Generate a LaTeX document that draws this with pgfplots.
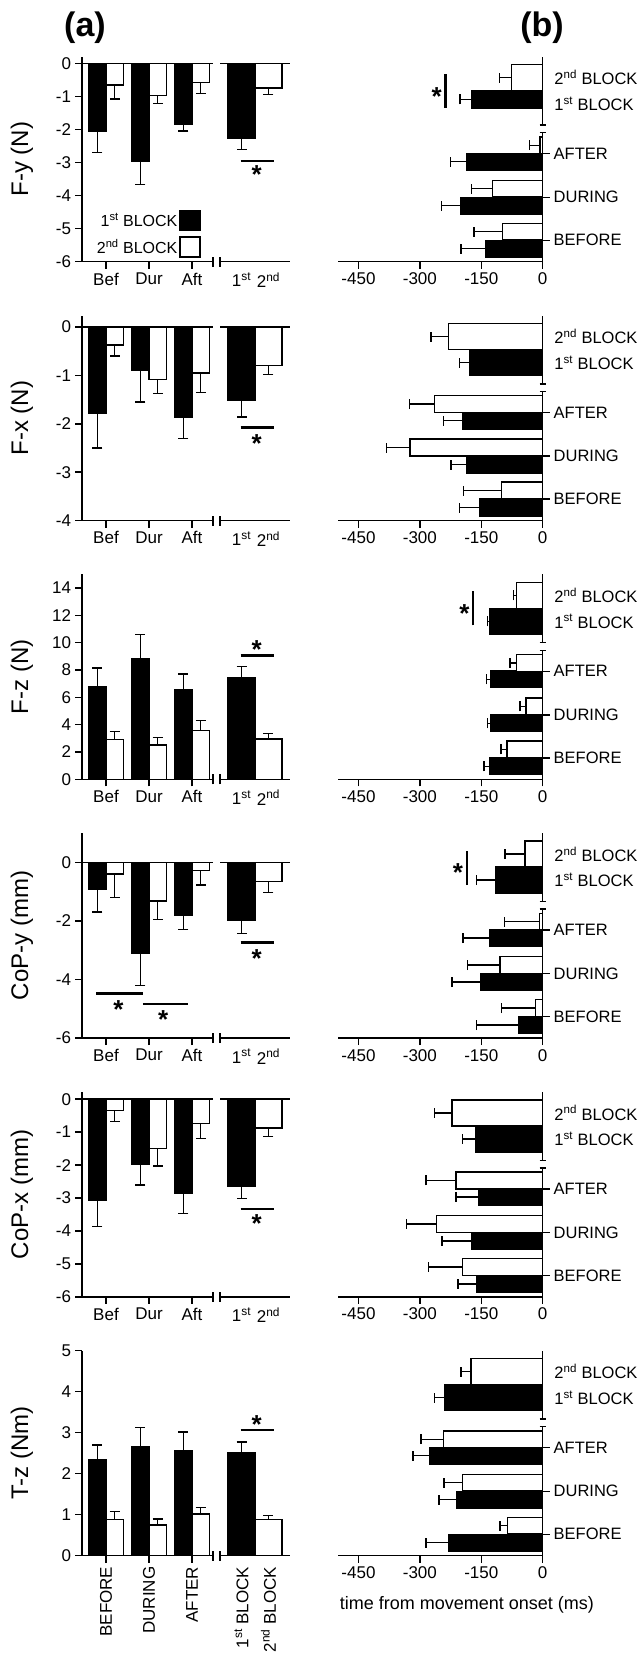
\documentclass[border=0pt]{standalone}
\usepackage{pgfplots}
\pgfplotsset{compat=1.18}
\usepackage{fontspec}
\setmainfont{Liberation Sans}
\newcommand{\fs}[1]{\fontsize{#1}{#1}\selectfont}
\pgfplotsset{
  every axis/.append style={scale only axis, clip=false, line width=1.4pt,
    tick style={line width=1.4pt, black}, tick align=outside, major tick length=7pt,
    tick label style={font=\fs{17}}, label style={font=\fs{24}},
    error bars/error mark=|,
    error bars/error bar style={line width=1.4pt, black},
    error bars/error mark options={line width=1.4pt, black, mark size=5pt}},
  g1/.style={width=131pt, height=205pt, xmin=-0.558, xmax=2.488,
    axis x line*=bottom, axis y line*=left, xtick={0,1,2}, xticklabels={Bef,Dur,Aft},
    ylabel style={at={(axis description cs:-0.458,0.5)}, anchor=center}},
  g2/.style={width=70pt, height=205pt, xmin=-1.3, xmax=1.3,
    axis x line*=bottom, axis y line=none, ytick=\empty, xtick={-0.5,0.5},
    xticklabels={1\textsuperscript{st},2\textsuperscript{nd}}, xtick style={draw=none}},
  pb/.style={width=204.7pt, height=205pt, xmin=-500, xmax=0, ymin=0, ymax=205,
    axis x line*=bottom, axis y line*=right, y axis line style={draw=none},
    xtick={-450,-300,-150,0}, xticklabels={-450,-300,-150,0},
    ytick={21.5,64.5,108}, yticklabels={BEFORE,DURING,AFTER},
    yticklabel style={font=\fs{16.5}}},
  bk/.style={ybar, bar shift=0pt, bar width=0.4, fill=black, draw=black, line width=1.4pt},
  wh/.style={ybar, bar shift=0pt, bar width=0.4, fill=white, draw=black, line width=1.4pt},
  bk2/.style={ybar, bar shift=0pt, bar width=1, fill=black, draw=black, line width=1.4pt},
  wh2/.style={ybar, bar shift=0pt, bar width=1, fill=white, draw=black, line width=1.4pt},
  hbk/.style={xbar, bar shift=0pt, bar width=16.8, fill=black, draw=black, line width=1.4pt},
  hwh/.style={xbar, bar shift=0pt, bar width=16.8, fill=white, draw=black, line width=1.4pt},
  hbkB/.style={xbar, bar shift=0pt, bar width=26, fill=black, draw=black, line width=1.4pt},
  hwhB/.style={xbar, bar shift=0pt, bar width=26, fill=white, draw=black, line width=1.4pt},
}
\tikzset{st/.style={font=\bfseries\fs{26}, inner sep=0pt},
  bl/.style={anchor=west, font=\fs{16.5}, inner sep=0pt},
  sg/.style={line width=2.5pt}}
\newcommand{\bbreak}{%
  \draw[line width=1.4pt] (axis cs:0,0) -- (axis cs:0,129);
  \draw[line width=1.4pt] ([xshift=-3pt]axis cs:0,129) -- ([xshift=3pt]axis cs:0,129);
  \draw[line width=1.4pt] (axis cs:0,136.7) -- (axis cs:0,205);
  \draw[line width=1.4pt] ([xshift=-3pt]axis cs:0,136.7) -- ([xshift=3pt]axis cs:0,136.7);
  \node[bl] at ([xshift=11pt]axis cs:0,184) {2\textsuperscript{nd} BLOCK};
  \node[bl] at ([xshift=11pt]axis cs:0,158) {1\textsuperscript{st} BLOCK};}
\newcommand{\capR}[1]{\draw[line width=1.4pt] ([yshift=-5pt]axis cs:2.488,#1) -- ([yshift=5pt]axis cs:2.488,#1);}
\newcommand{\capL}[1]{\draw[line width=1.4pt] ([yshift=-5pt]axis cs:-1.3,#1) -- ([yshift=5pt]axis cs:-1.3,#1);}
\newcommand{\zeroA}{\draw[line width=1.4pt] (axis cs:-0.558,0) -- (axis cs:2.488,0);}
\newcommand{\zeroB}{\draw[line width=1.4pt] (axis cs:-1.3,0) -- (axis cs:1.3,0);}
\begin{document}
\begin{tikzpicture}
\node[font=\bfseries\fs{34}] at (85pt,-28pt) {(a)};
\node[font=\bfseries\fs{34}] at (542pt,-28pt) {(b)};

%================ ROW 1 : F-y =================
\begin{axis}[g1, at={(82pt,-261.7pt)}, anchor=south west, ymin=-6, ymax=0.2,
  ytick={-6,-5,-4,-3,-2,-1,0}, yticklabels={-6,-5,-4,-3,-2,-1,0}, ylabel={F-y (N)},
  legend style={at={(0.92,0.012)}, anchor=south east, draw=none, fill=none, font=\fs{16}, row sep=5pt, inner sep=1pt},
  legend plot pos=right, legend cell align=right]
\addplot[bk, legend image code/.code={\draw[fill=black, draw=black, line width=1.4pt] (0pt,-10pt) rectangle (20pt,10pt);}, error bars/.cd, y dir=minus, y explicit] coordinates {(-0.2,-2.05) +- (0,0.65) (0.8,-2.95) +- (0,0.72) (1.8,-1.83) +- (0,0.22)};
\addlegendentry{1\textsuperscript{st} BLOCK}
\addplot[wh, legend image code/.code={\draw[fill=white, draw=black, line width=1.4pt] (0pt,-10pt) rectangle (20pt,10pt);}, error bars/.cd, y dir=minus, y explicit] coordinates {(0.2,-0.65) +- (0,0.43) (1.2,-0.97) +- (0,0.25) (2.2,-0.58) +- (0,0.34)};
\addlegendentry{2\textsuperscript{nd} BLOCK}
\zeroA \capR{-6}
\end{axis}
\begin{axis}[g2, at={(220pt,-261.7pt)}, anchor=south west, ymin=-6, ymax=0.2]
\addplot[bk2, error bars/.cd, y dir=minus, y explicit] coordinates {(-0.5,-2.28) +- (0,0.32)};
\addplot[wh2, error bars/.cd, y dir=minus, y explicit] coordinates {(0.5,-0.75) +- (0,0.2)};
\zeroB \capL{-6}
\draw[sg] (axis cs:-0.53,-2.96) -- (axis cs:0.70,-2.96);
\node[st] at ([yshift=-13.6pt]axis cs:0.06,-2.96) {*};
\end{axis}
\begin{axis}[pb, at={(338pt,-261.7pt)}, anchor=south west]
\addplot[hbk, error bars/.cd, x dir=minus, x explicit] coordinates {(-140,13) +- (60,0) (-201,56) +- (46,0) (-185,100) +- (40,0)};
\addplot[hwh, error bars/.cd, x dir=minus, x explicit] coordinates {(-98,30) +- (70,0) (-123,73) +- (51,0) (-7,116.5) +- (25,0)};
\addplot[hbk, bar width=17.3, error bars/.cd, x dir=minus, x explicit] coordinates {(-174,162.4) +- (28,0)};
\addplot[hwhB, error bars/.cd, x dir=minus, x explicit] coordinates {(-76,184) +- (29,0)};
\bbreak
\draw[sg] (axis cs:-237,154) -- (axis cs:-237,188);
\node[st] at ([yshift=-5.6pt]axis cs:-259,171) {*};
\end{axis}

%================ ROW 2 : F-x =================
\begin{axis}[g1, at={(82pt,-520.5pt)}, anchor=south west, ymin=-4, ymax=0.24,
  ytick={-4,-3,-2,-1,0}, yticklabels={-4,-3,-2,-1,0}, ylabel={F-x (N)}]
\addplot[bk, error bars/.cd, y dir=minus, y explicit] coordinates {(-0.2,-1.78) +- (0,0.72) (0.8,-0.9) +- (0,0.65) (1.8,-1.87) +- (0,0.43)};
\addplot[wh, error bars/.cd, y dir=minus, y explicit] coordinates {(0.2,-0.37) +- (0,0.23) (1.2,-1.08) +- (0,0.29) (2.2,-0.95) +- (0,0.4)};
\zeroA \capR{-4}
\end{axis}
\begin{axis}[g2, at={(220pt,-520.5pt)}, anchor=south west, ymin=-4, ymax=0.24]
\addplot[bk2, error bars/.cd, y dir=minus, y explicit] coordinates {(-0.5,-1.52) +- (0,0.34)};
\addplot[wh2, error bars/.cd, y dir=minus, y explicit] coordinates {(0.5,-0.8) +- (0,0.18)};
\zeroB \capL{-4}
\draw[sg] (axis cs:-0.53,-2.08) -- (axis cs:0.70,-2.08);
\node[st] at ([yshift=-15.6pt]axis cs:0.06,-2.08) {*};
\end{axis}
\begin{axis}[pb, at={(338pt,-520.5pt)}, anchor=south west]
\addplot[hbk, error bars/.cd, x dir=minus, x explicit] coordinates {(-153,13) +- (50,0) (-185,56) +- (39,0) (-196,100) +- (46,0)};
\addplot[hwh, error bars/.cd, x dir=minus, x explicit] coordinates {(-100,30) +- (94,0) (-324,73) +- (58,0) (-265,116.5) +- (61,0)};
\addplot[hbkB, error bars/.cd, x dir=minus, x explicit] coordinates {(-179,158) +- (24,0)};
\addplot[hwhB, error bars/.cd, x dir=minus, x explicit] coordinates {(-230,184) +- (43,0)};
\bbreak
\end{axis}

%================ ROW 3 : F-z =================
\begin{axis}[g1, at={(82pt,-779.3pt)}, anchor=south west, ymin=0, ymax=15,
  ytick={0,2,4,6,8,10,12,14}, yticklabels={0,2,4,6,8,10,12,14}, ylabel={F-z (N)}]
\addplot[bk, error bars/.cd, y dir=plus, y explicit] coordinates {(-0.2,6.75) +- (0,1.4) (0.8,8.85) +- (0,1.75) (1.8,6.55) +- (0,1.15)};
\addplot[wh, error bars/.cd, y dir=plus, y explicit] coordinates {(0.2,2.9) +- (0,0.6) (1.2,2.5) +- (0,0.55) (2.2,3.55) +- (0,0.75)};
\capR{0}
\end{axis}
\begin{axis}[g2, at={(220pt,-779.3pt)}, anchor=south west, ymin=0, ymax=15]
\addplot[bk2, error bars/.cd, y dir=plus, y explicit] coordinates {(-0.5,7.4) +- (0,0.85)};
\addplot[wh2, error bars/.cd, y dir=plus, y explicit] coordinates {(0.5,2.95) +- (0,0.4)};
\capL{0}
\draw[sg] (axis cs:-0.53,9.07) -- (axis cs:0.70,9.07);
\node[st] at ([yshift=5.4pt]axis cs:0.06,9.07) {*};
\end{axis}
\begin{axis}[pb, at={(338pt,-779.3pt)}, anchor=south west]
\addplot[hbk, error bars/.cd, x dir=minus, x explicit] coordinates {(-130,13) +- (13,0) (-127,56) +- (8,0) (-127,100) +- (10,0)};
\addplot[hwh, error bars/.cd, x dir=minus, x explicit] coordinates {(-87,30) +- (15,0) (-41,73) +- (14,0) (-64,116.5) +- (16,0)};
\addplot[hbkB, error bars/.cd, x dir=minus, x explicit] coordinates {(-129,158) +- (6,0)};
\addplot[hwhB, error bars/.cd, x dir=minus, x explicit] coordinates {(-64,184) +- (8,0)};
\bbreak
\draw[sg] (axis cs:-170,154) -- (axis cs:-170,188);
\node[st] at ([yshift=-5.6pt]axis cs:-191,171) {*};
\end{axis}

%================ ROW 4 : CoP-y =================
\begin{axis}[g1, at={(82pt,-1038.1pt)}, anchor=south west, ymin=-6, ymax=1,
  ytick={-6,-4,-2,0}, yticklabels={-6,-4,-2,0}, ylabel={CoP-y (mm)}]
\addplot[bk, error bars/.cd, y dir=minus, y explicit] coordinates {(-0.2,-0.92) +- (0,0.78) (0.8,-3.12) +- (0,1.08) (1.8,-1.8) +- (0,0.5)};
\addplot[wh, error bars/.cd, y dir=minus, y explicit] coordinates {(0.2,-0.4) +- (0,0.8) (1.2,-1.32) +- (0,0.63) (2.2,-0.28) +- (0,0.49)};
\zeroA \capR{-6}
\draw[sg] (axis cs:-0.23,-4.47) -- (axis cs:0.86,-4.47);
\node[st] at ([yshift=-16.2pt]axis cs:0.29,-4.47) {*};
\draw[sg] (axis cs:0.86,-4.83) -- (axis cs:1.9,-4.83);
\node[st] at ([yshift=-15.6pt]axis cs:1.33,-4.83) {*};
\end{axis}
\begin{axis}[g2, at={(220pt,-1038.1pt)}, anchor=south west, ymin=-6, ymax=1]
\addplot[bk2, error bars/.cd, y dir=minus, y explicit] coordinates {(-0.5,-1.97) +- (0,0.45)};
\addplot[wh2, error bars/.cd, y dir=minus, y explicit] coordinates {(0.5,-0.66) +- (0,0.37)};
\zeroB \capL{-6}
\draw[sg] (axis cs:-0.53,-2.74) -- (axis cs:0.70,-2.74);
\node[st] at ([yshift=-15.6pt]axis cs:0.06,-2.74) {*};
\end{axis}
\begin{axis}[pb, at={(338pt,-1038.1pt)}, anchor=south west]
\addplot[hbk, error bars/.cd, x dir=minus, x explicit] coordinates {(-58,13) +- (103,0) (-151,56) +- (71,0) (-129,100) +- (66,0)};
\addplot[hwh, error bars/.cd, x dir=minus, x explicit] coordinates {(-17,30) +- (83,0) (-104,73) +- (79,0) (-8,116.5) +- (86,0)};
\addplot[hbkB, error bars/.cd, x dir=minus, x explicit] coordinates {(-115,158) +- (46,0)};
\addplot[hwhB, error bars/.cd, x dir=minus, x explicit] coordinates {(-43,184) +- (49,0)};
\bbreak
\draw[sg] (axis cs:-185,153) -- (axis cs:-185,187);
\node[st] at ([yshift=-5.6pt]axis cs:-207,171) {*};
\end{axis}

%================ ROW 5 : CoP-x =================
\begin{axis}[g1, at={(82pt,-1296.9pt)}, anchor=south west, ymin=-6, ymax=0.22,
  ytick={-6,-5,-4,-3,-2,-1,0}, yticklabels={-6,-5,-4,-3,-2,-1,0}, ylabel={CoP-x (mm)}]
\addplot[bk, error bars/.cd, y dir=minus, y explicit] coordinates {(-0.2,-3.08) +- (0,0.79) (0.8,-1.98) +- (0,0.62) (1.8,-2.85) +- (0,0.62)};
\addplot[wh, error bars/.cd, y dir=minus, y explicit] coordinates {(0.2,-0.35) +- (0,0.32) (1.2,-1.5) +- (0,0.53) (2.2,-0.74) +- (0,0.46)};
\zeroA \capR{-6}
\end{axis}
\begin{axis}[g2, at={(220pt,-1296.9pt)}, anchor=south west, ymin=-6, ymax=0.22]
\addplot[bk2, error bars/.cd, y dir=minus, y explicit] coordinates {(-0.5,-2.63) +- (0,0.39)};
\addplot[wh2, error bars/.cd, y dir=minus, y explicit] coordinates {(0.5,-0.87) +- (0,0.26)};
\zeroB \capL{-6}
\draw[sg] (axis cs:-0.53,-3.34) -- (axis cs:0.70,-3.34);
\node[st] at ([yshift=-14.6pt]axis cs:0.06,-3.34) {*};
\end{axis}
\begin{axis}[pb, at={(338pt,-1296.9pt)}, anchor=south west]
\addplot[hbk, error bars/.cd, x dir=minus, x explicit] coordinates {(-160,13) +- (47,0) (-173,56) +- (73,0) (-157,100) +- (55,0)};
\addplot[hwh, error bars/.cd, x dir=minus, x explicit] coordinates {(-196,30) +- (83,0) (-260,73) +- (73,0) (-212,116.5) +- (73,0)};
\addplot[hbkB, error bars/.cd, x dir=minus, x explicit] coordinates {(-163,158) +- (33,0)};
\addplot[hwhB, error bars/.cd, x dir=minus, x explicit] coordinates {(-222,184) +- (43,0)};
\bbreak
\end{axis}

%================ ROW 6 : T-z =================
\begin{axis}[g1, at={(82pt,-1555.7pt)}, anchor=south west, ymin=0, ymax=5,
  ytick={0,1,2,3,4,5}, yticklabels={0,1,2,3,4,5}, ylabel={T-z (Nm)},
  xticklabels={BEFORE,DURING,AFTER}, xticklabel style={rotate=90, anchor=east}]
\addplot[bk, error bars/.cd, y dir=plus, y explicit] coordinates {(-0.2,2.33) +- (0,0.37) (0.8,2.67) +- (0,0.46) (1.8,2.57) +- (0,0.45)};
\addplot[wh, error bars/.cd, y dir=plus, y explicit] coordinates {(0.2,0.88) +- (0,0.2) (1.2,0.75) +- (0,0.15) (2.2,1.02) +- (0,0.16)};
\capR{0}
\end{axis}
\begin{axis}[g2, at={(220pt,-1555.7pt)}, anchor=south west, ymin=0, ymax=5,
  xticklabels={1\textsuperscript{st} BLOCK,2\textsuperscript{nd} BLOCK}, xticklabel style={rotate=90, anchor=east}]
\addplot[bk2, error bars/.cd, y dir=plus, y explicit] coordinates {(-0.5,2.52) +- (0,0.25)};
\addplot[wh2, error bars/.cd, y dir=plus, y explicit] coordinates {(0.5,0.88) +- (0,0.1)};
\capL{0}
\draw[sg] (axis cs:-0.53,3.07) -- (axis cs:0.70,3.07);
\node[st] at ([yshift=5pt]axis cs:0.06,3.07) {*};
\end{axis}
\begin{axis}[pb, at={(338pt,-1555.7pt)}, anchor=south west,
  xlabel={time from movement onset (ms)},
  xlabel style={font=\fs{18}, at={(axis description cs:0.63,0)}, anchor=center, yshift=-49pt}]
\addplot[hbk, error bars/.cd, x dir=minus, x explicit] coordinates {(-230,13) +- (55,0) (-210,56) +- (43,0) (-277,100) +- (40,0)};
\addplot[hwh, error bars/.cd, x dir=minus, x explicit] coordinates {(-86,30) +- (18,0) (-196,73) +- (45,0) (-242,116.5) +- (55,0)};
\addplot[hbkB, error bars/.cd, x dir=minus, x explicit] coordinates {(-240,158) +- (25,0)};
\addplot[hwhB, error bars/.cd, x dir=minus, x explicit] coordinates {(-175,184) +- (25,0)};
\bbreak
\end{axis}

\pgfresetboundingbox
\path[use as bounding box] (0pt,0pt) rectangle (644pt,-1657pt);
\end{tikzpicture}
\end{document}
